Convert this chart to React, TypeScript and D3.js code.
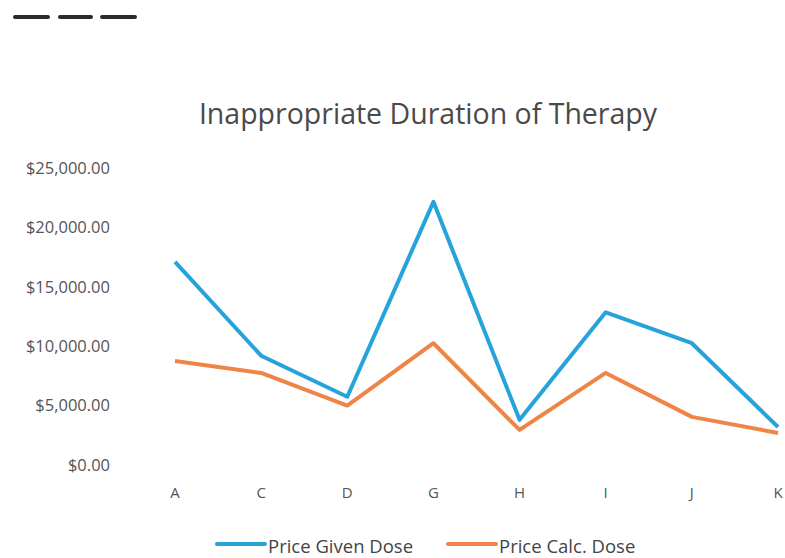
import React from "react";
import * as d3 from "d3";

const categories = ["A", "C", "D", "G", "H", "I", "J", "K"];
const priceGivenDose = [17100, 9200, 5750, 22150, 3800, 12850, 10250, 3200];
const priceCalcDose = [8750, 7750, 5000, 10250, 2950, 7750, 4050, 2700];
const yTicks = [0, 5000, 10000, 15000, 20000, 25000];
const seriesNames = ["Price Given Dose", "Price Calc. Dose"];
const seriesColors = ["#27a3dc", "#ef8447"];

const W = 785;
const H = 558;
const FONT = "'Open Sans', 'DejaVu Sans', sans-serif";

export default function App() {
  const x = d3.scalePoint<string>().domain(categories).range([175, 778]);
  const y = d3.scaleLinear().domain([0, 25000]).range([465, 168]);
  const fmt = (v: number) => "$" + d3.format(",.2f")(v);
  const line = d3
    .line<number>()
    .x((_, i) => x(categories[i]) as number)
    .y((d) => y(d));
  const series = [priceGivenDose, priceCalcDose];

  return (
    <svg
      width={W}
      height={H}
      style={{ position: "absolute", left: 0, top: 0, background: "#fff" }}
      fontFamily={FONT}
    >
      {/* scan artifact dashes */}
      {[[15, 48], [60, 91], [102, 135]].map(([a, b], i) => (
        <line key={i} x1={a} x2={b} y1={17} y2={17} stroke="#2b2b2b" strokeWidth={4} strokeLinecap="round" />
      ))}
      <text x={428} y={124} textAnchor="middle" fontSize={28.5} fill="#4a4a4a">
        Inappropriate Duration of Therapy
      </text>
      {yTicks.map((t) => (
        <text key={t} x={110} y={y(t)} dy="0.35em" textAnchor="end" fontSize={16.5} fill="#555">
          {fmt(t)}
        </text>
      ))}
      {categories.map((c) => (
        <text key={c} x={x(c)} y={493} dy="0.35em" textAnchor="middle" fontSize={15} fill="#555">
          {c}
        </text>
      ))}
      {series.map((s, i) => (
        <path key={i} d={line(s) || ""} fill="none" stroke={seriesColors[i]} strokeWidth={4} strokeLinejoin="round" />
      ))}
      {seriesNames.map((n, i) => {
        const x0 = i === 0 ? 217 : 448;
        return (
          <g key={n}>
            <line x1={x0} x2={x0 + 48} y1={544} y2={544} stroke={seriesColors[i]} strokeWidth={4} strokeLinecap="round" />
            <text x={x0 + 51} y={553} fontSize={18.5} fill="#444">
              {n}
            </text>
          </g>
        );
      })}
    </svg>
  );
}
